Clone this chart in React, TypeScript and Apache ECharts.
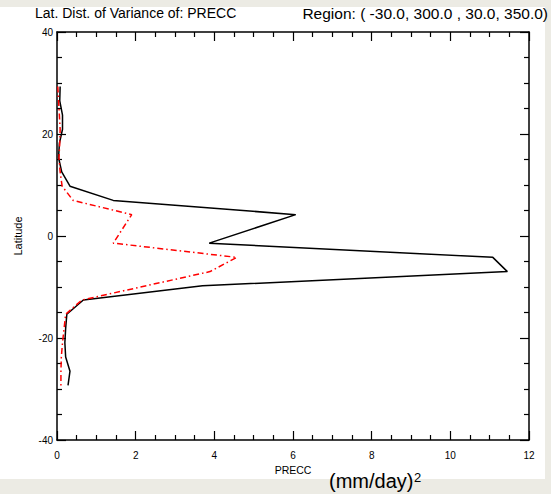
import React, { useEffect, useRef } from "react";
import * as echarts from "echarts";

const latitudes = [29.30, 26.51, 23.72, 20.93, 18.14, 15.35, 12.56, 9.77, 6.98, 4.19, -1.40, -4.19, -6.98, -9.77, -12.56, -15.35, -18.14, -20.93, -23.72, -26.51, -29.30];
const blackValues = [0.08, 0.07, 0.14, 0.14, 0.06, 0.04, 0.12, 0.33, 1.43, 6.07, 3.87, 11.08, 11.45, 3.70, 0.67, 0.25, 0.22, 0.20, 0.22, 0.33, 0.28];
const redLatitudes = [29.30, 26.51, 23.72, 20.93, 18.14, 15.35, 12.56, 9.77, 6.98, 4.19, -1.40, -4.19, -6.98, -12.56, -15.35, -18.14, -20.93, -23.72, -26.51, -29.30];
const redValues = [0.02, 0.04, 0.06, 0.08, 0.07, 0.05, 0.08, 0.13, 0.41, 1.90, 1.43, 4.57, 3.89, 0.63, 0.22, 0.18, 0.14, 0.11, 0.10, 0.10];
const xTicks = [0, 2, 4, 6, 8, 10, 12];
const yTicks = [-40, -20, 0, 20, 40];

const FONT = "Liberation Sans, Arial, Helvetica, sans-serif";

export default function App() {
  const ref = useRef<HTMLDivElement>(null);
  useEffect(() => {
    document.body.style.margin = "0";
    const chart = echarts.init(ref.current!, null, { renderer: "svg" });
    const axisCommon = {
      axisLine: { show: true, onZero: false, lineStyle: { color: "#000", width: 1.5 } },
      axisTick: { show: true, inside: true, length: 9, lineStyle: { color: "#000", width: 1.2 } },
      minorTick: { show: true, splitNumber: 4, length: 5, lineStyle: { color: "#000", width: 1.2 } },
      splitLine: { show: false },
    };
    chart.setOption({
      animation: false,
      backgroundColor: "transparent",
      grid: { left: 57, right: 22, top: 32, bottom: 54 },
      graphic: [
        { type: "rect", z: -10, silent: true, shape: { x: 0, y: 7, width: 545, height: 472 }, style: { fill: "#ffffff" } },
        { type: "text", left: 35, top: 6, style: { text: "Lat. Dist. of Variance of: PRECC", font: `14px ${FONT}`, fill: "#000" } },
        { type: "text", right: 3, top: 5, style: { text: "Region: ( -30.0, 300.0 , 30.0, 350.0)", font: `15.5px ${FONT}`, fill: "#000" } },
        { type: "text", left: 329, top: 471, style: { text: "(mm/day)", font: `20px ${FONT}`, fill: "#000" } },
        { type: "text", left: 414, top: 471, style: { text: "2", font: `13px ${FONT}`, fill: "#000" } },
      ],
      xAxis: [
        {
          ...axisCommon,
          type: "value", position: "bottom", min: 0, max: 12, interval: 2,
          name: "PRECC", nameLocation: "middle", nameGap: 22,
          nameTextStyle: { fontFamily: FONT, fontSize: 10.5, color: "#000" },
          axisLabel: { fontFamily: FONT, fontSize: 10, color: "#000", margin: 10, formatter: (v: number) => (xTicks.includes(v) ? String(v) : "") },
        },
        {
          ...axisCommon,
          type: "value", position: "top", min: 0, max: 12, interval: 2,
          axisLabel: { show: false },
        },
      ],
      yAxis: [
        {
          ...axisCommon,
          type: "value", position: "left", min: -40, max: 40, interval: 20,
          name: "Latitude", nameLocation: "middle", nameGap: 34, nameRotate: 90,
          nameTextStyle: { fontFamily: FONT, fontSize: 11, color: "#000" },
          axisLabel: { fontFamily: FONT, fontSize: 10, color: "#000", margin: 4, formatter: (v: number) => (yTicks.includes(v) ? String(v) : "") },
        },
        {
          ...axisCommon,
          type: "value", position: "right", min: -40, max: 40, interval: 20,
          axisLabel: { show: false },
        },
      ],
      series: [
        {
          type: "line",
          xAxisIndex: 0,
          yAxisIndex: 0,
          data: latitudes.map((lat, i) => [blackValues[i], lat]),
          symbol: "none",
          lineStyle: { color: "#000", width: 1.5 },
          z: 3,
        },
        {
          type: "line",
          xAxisIndex: 0,
          yAxisIndex: 0,
          data: redLatitudes.map((lat, i) => [redValues[i], lat]),
          symbol: "none",
          lineStyle: { color: "#ff0000", width: 1.5, type: [6, 3, 1.5, 3] },
          z: 4,
        },
      ],
    });
    return () => chart.dispose();
  }, []);
  return (
    <div style={{ width: 551, height: 494, background: "#ecebe4" }}>
      <div ref={ref} style={{ width: 551, height: 494 }} />
    </div>
  );
}
